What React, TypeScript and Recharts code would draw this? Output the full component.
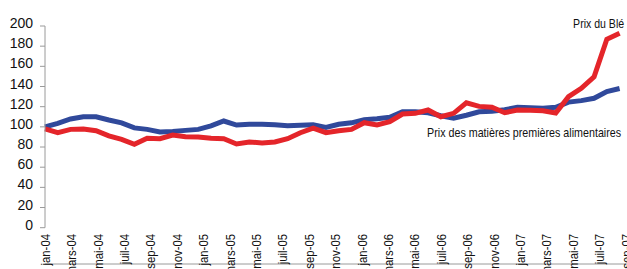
import React from 'react';
import { LineChart, Line, XAxis, YAxis, LabelList } from 'recharts';

const months: string[] = [
  'jan-04', 'févr-04', 'mars-04', 'avr-04', 'mai-04', 'juin-04', 'juil-04', 'août-04', 'sep-04', 'oct-04', 'nov-04', 'déc-04',
  'jan-05', 'févr-05', 'mars-05', 'avr-05', 'mai-05', 'juin-05', 'juil-05', 'août-05', 'sep-05', 'oct-05', 'nov-05', 'déc-05',
  'jan-06', 'févr-06', 'mars-06', 'avr-06', 'mai-06', 'juin-06', 'juil-06', 'août-06', 'sep-06', 'oct-06', 'nov-06', 'déc-06',
  'jan-07', 'févr-07', 'mars-07', 'avr-07', 'mai-07', 'juin-07', 'juil-07', 'août-07', 'sep-07', 'oct-07',
];

// Prix du Blé (red)
const wheat: number[] = [
  98, 94.2, 97.5, 97.9, 96.2, 91, 87.6, 82.7, 88.6, 88.3, 91.9, 90.2,
  90, 88.6, 88.3, 83, 85, 84, 85, 88.3, 94.2, 98.8, 94.2, 96.2,
  97.5, 104.1, 101.8, 105.1, 112.7, 113.4, 116.7, 110, 113.4, 123.8, 120.3, 119.4,
  114, 116.7, 116.5, 116, 113.8, 129.9, 138.2, 149.7, 186.8, 192.8,
];

// Prix des matières premières alimentaires (blue)
const food: number[] = [
  100, 103.5, 107.8, 110, 110, 106.8, 104, 99, 97.5, 95, 95.5, 96.5,
  97.5, 101, 105.8, 101.8, 102.5, 102.5, 102, 101, 101.5, 102, 99.5, 102.5,
  104, 107, 108, 109.5, 115, 115, 114, 111, 108.5, 111.5, 115, 115.5,
  117, 119.4, 119, 118.5, 119.4, 124.5, 126, 128.3, 135, 138,
];

// Axis labels (every two months) shown under the axis
const axisLabels: string[] = [
  'jan-04', 'mars-04', 'mai-04', 'juil-04', 'sep-04', 'nov-04',
  'jan-05', 'mars-05', 'mai-05', 'juil-05', 'sep-05', 'nov-05',
  'jan-06', 'mars-06', 'mai-06', 'juil-06', 'sep-06', 'nov-06',
  'jan-07', 'mars-07', 'mai-07', 'juil-07', 'sep-07',
];
const labelPositions: number[] = axisLabels.map((_, k) => k * 2);
const labelDomain: [number, number] = [0, 44];

const yTicks: number[] = [0, 20, 40, 60, 80, 100, 120, 140, 160, 180, 200];
const wheatName = 'Prix du Blé';
const foodName = 'Prix des matières premières alimentaires';

const data = months.map((m, i) => ({ m, t: i, wheat: wheat[i], food: food[i] }));

const FONT = '"Liberation Sans", Arial, sans-serif';
const AXIS = '#9a9a9a';
const RED = '#e4252a';
const BLUE = '#30499b';

const LabelTick = (props: any) => {
  const { x, y, payload } = props;
  const k = Math.round(payload.value / 2);
  const ty = y + 6.3;
  return (
    <g transform={`translate(${x}, ${ty}) rotate(-90) scale(0.84, 1)`}>
      <text x={0} y={0} textAnchor="end" dy="0.36em" fontSize={13.5} fontFamily={FONT} fill="#111">
        {axisLabels[k]}
      </text>
    </g>
  );
};

const YTick = (props: any) => {
  const { x, y, payload } = props;
  return (
    <text x={x - 5} y={y - 3} dy="0.36em" textAnchor="end" fontSize={14} fontFamily={FONT} fill="#111">
      {payload.value}
    </text>
  );
};

const lastIndex = months.length - 1;

const WheatLabel = (props: any) => {
  const { x, y, index } = props;
  if (index !== lastIndex) return <g />;
  return (
    <text x={x + 4.5} y={y - 5.5} textAnchor="end" fontSize={13} fontFamily={FONT} fill="#111"
      textLength={51} lengthAdjust="spacingAndGlyphs">
      {wheatName}
    </text>
  );
};

const FoodLabel = (props: any) => {
  const { x, y, index } = props;
  if (index !== lastIndex) return <g />;
  return (
    <text x={x + 1.5} y={y + 48.5} textAnchor="end" fontSize={13} fontFamily={FONT} fill="#111"
      textLength={194} lengthAdjust="spacingAndGlyphs">
      {foodName}
    </text>
  );
};

export default function App() {
  return (
    <div style={{ position: 'absolute', left: 0, top: 0, width: 627, height: 269, overflow: 'hidden', background: '#fff' }}>
      <LineChart width={627} height={269} data={data} margin={{ top: 26, right: 0, bottom: 0, left: 0 }}>
        <XAxis
          xAxisId="m"
          dataKey="m"
          interval={0}
          height={5}
          padding={{ left: 0, right: 7.4 }}
          tick={false}
          tickSize={5}
          axisLine={{ stroke: AXIS, strokeWidth: 1 }}
          tickLine={{ stroke: AXIS, strokeWidth: 1 }}
        />
        <XAxis
          xAxisId="lbl"
          dataKey="t"
          type="number"
          domain={labelDomain}
          allowDataOverflow
          ticks={labelPositions}
          interval={0}
          height={36.3}
          padding={{ left: 0, right: 1.3 }}
          tickSize={0}
          tickMargin={0}
          axisLine={false}
          tickLine={false}
          tick={<LabelTick />}
        />
        <YAxis
          width={45}
          domain={[0, 200]}
          ticks={yTicks}
          interval={0}
          tick={<YTick />}
          tickSize={5}
          tickMargin={2}
          axisLine={{ stroke: AXIS, strokeWidth: 1 }}
          tickLine={{ stroke: AXIS, strokeWidth: 1 }}
        />
        <Line
          xAxisId="m"
          type="linear"
          dataKey="food"
          name={foodName}
          stroke={BLUE}
          strokeWidth={5}
          dot={false}
          activeDot={false}
          isAnimationActive={false}
        >
          <LabelList dataKey="food" content={<FoodLabel />} />
        </Line>
        <Line
          xAxisId="m"
          type="linear"
          dataKey="wheat"
          name={wheatName}
          stroke={RED}
          strokeWidth={5}
          dot={false}
          activeDot={false}
          isAnimationActive={false}
        >
          <LabelList dataKey="wheat" content={<WheatLabel />} />
        </Line>
      </LineChart>
    </div>
  );
}
